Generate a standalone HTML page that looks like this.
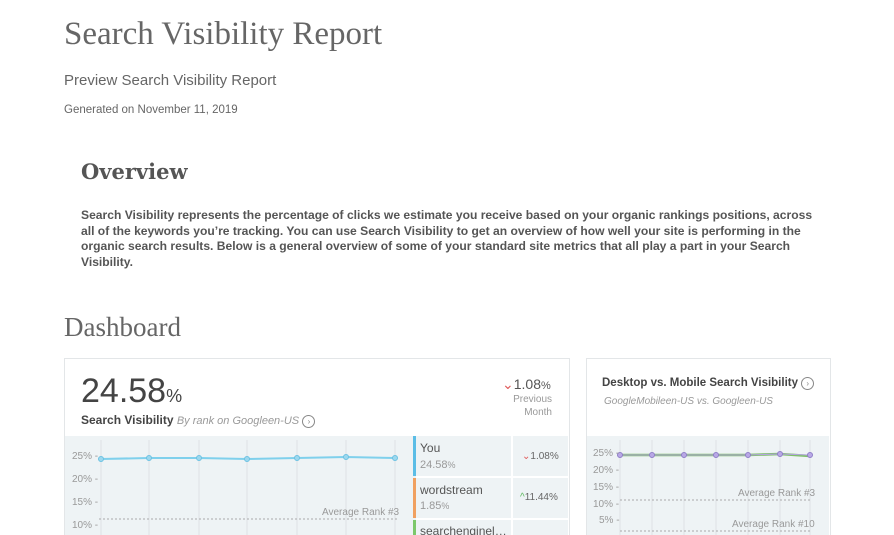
<!DOCTYPE html>
<html><head><style>
html,body{margin:0;width:894px;height:535px;overflow:hidden}
body{background:#fff;font-family:"Liberation Sans",sans-serif;position:relative}
.a{position:absolute;white-space:nowrap}
.card{position:absolute;background:#fff;border:1px solid #e3e6e8;border-bottom:none}
.gray{position:absolute;background:#eef3f5}
.yl{position:absolute;font-size:10px;color:#999;z-index:3}
svg{z-index:2}
</style></head><body>
<div class="a" style="left:64px;top:16px;font-family:'Liberation Serif',serif;font-size:33px;color:#666">Search Visibility Report</div>
<div class="a" style="left:64px;top:72px;font-size:15px;color:#666">Preview Search Visibility Report</div>
<div class="a" style="left:64px;top:104px;font-size:11.5px;color:#666">Generated on November 11, 2019</div>
<div class="a" style="left:81px;top:159px;font-family:'DejaVu Serif',serif;font-weight:bold;font-size:21px;color:#555">Overview</div>
<div class="a" style="left:81px;top:208px;width:735px;white-space:normal;font-size:12.1px;line-height:15.5px;font-weight:bold;color:#555">Search Visibility represents the percentage of clicks we estimate you receive based on your organic rankings positions, across all of the keywords you’re tracking. You can use Search Visibility to get an overview of how well your site is performing in the organic search results. Below is a general overview of some of your standard site metrics that all play a part in your Search Visibility.</div>
<div class="a" style="left:64px;top:312px;font-family:'Liberation Serif',serif;font-size:27px;color:#666">Dashboard</div>

<div class="card" style="left:64px;top:358px;width:504px;height:177px"></div>
<div class="gray" style="left:65px;top:436px;width:503px;height:99px"></div>
<div class="card" style="left:586px;top:358px;width:243px;height:177px"></div>
<div class="gray" style="left:587px;top:436px;width:242px;height:99px"></div>

<div class="a" style="left:81px;top:372px;font-size:34px;color:#444">24.58<span style="font-size:18px">%</span></div>
<div class="a" style="left:81px;top:413px;font-size:12px;font-weight:bold;color:#444">Search Visibility <span style="font-weight:normal;font-style:italic;color:#999;font-size:11px">By rank on Googleen-US</span> <span style="display:inline-block;width:11px;height:11px;border:1px solid #888;border-radius:50%;font-size:8px;text-align:center;line-height:11px;color:#888;font-weight:normal">›</span></div>
<div class="a" style="left:502px;top:376px;font-size:14px;color:#555"><span style="color:#e05a5a">⌄</span>1.08<span style="font-size:11px">%</span></div>
<div class="a" style="left:500px;top:393px;width:52px;text-align:right;font-size:10px;line-height:13px;color:#999;white-space:normal">Previous Month</div>

<svg class="a" style="left:0;top:0" width="894" height="535">
<g stroke="#dde2e5" stroke-width="1">
<line x1="101" y1="440" x2="101" y2="535"/><line x1="149" y1="440" x2="149" y2="535"/><line x1="199" y1="440" x2="199" y2="535"/><line x1="247" y1="440" x2="247" y2="535"/><line x1="297" y1="440" x2="297" y2="535"/><line x1="346" y1="440" x2="346" y2="535"/><line x1="395" y1="440" x2="395" y2="535"/>
<line x1="620" y1="440" x2="620" y2="535"/><line x1="652" y1="440" x2="652" y2="535"/><line x1="684" y1="440" x2="684" y2="535"/><line x1="716" y1="440" x2="716" y2="535"/><line x1="748" y1="440" x2="748" y2="535"/><line x1="780" y1="440" x2="780" y2="535"/><line x1="810" y1="440" x2="810" y2="535"/>
</g>
<g stroke="#aaa" stroke-dasharray="2,2"><line x1="99" y1="519" x2="397" y2="519"/><line x1="620" y1="500" x2="812" y2="500"/><line x1="620" y1="531" x2="812" y2="531"/></g>
<polyline points="101,459 149,458 199,458 247,459 297,458 346,457 395,458" fill="none" stroke="#7fd0ec" stroke-width="2"/>
<g fill="#9dd8ee" stroke="#6cc2e2"><circle cx="101" cy="459" r="2.5"/><circle cx="149" cy="458" r="2.5"/><circle cx="199" cy="458" r="2.5"/><circle cx="247" cy="459" r="2.5"/><circle cx="297" cy="458" r="2.5"/><circle cx="346" cy="457" r="2.5"/><circle cx="395" cy="458" r="2.5"/></g>
<polyline points="620,455 652,455 684,455 716,455 748,455 780,454 810,456" fill="none" stroke="#7fbf6a" stroke-width="2.5"/>
<polyline points="620,455 652,455 684,455 716,455 748,455 780,454 810,455" fill="none" stroke="#b4a3e0" stroke-width="1"/>
<g fill="#b9a8e6" stroke="#8f7fc8"><circle cx="620" cy="455" r="2.5"/><circle cx="652" cy="455" r="2.5"/><circle cx="684" cy="455" r="2.5"/><circle cx="716" cy="455" r="2.5"/><circle cx="748" cy="455" r="2.5"/><circle cx="780" cy="454" r="2.5"/><circle cx="810" cy="455" r="2.5"/></g>
</svg>
<div class="yl" style="left:72px;top:451px">25% -</div>
<div class="yl" style="left:72px;top:474px">20% -</div>
<div class="yl" style="left:72px;top:497px">15% -</div>
<div class="yl" style="left:72px;top:520px">10% -</div>
<div class="yl" style="left:322px;top:507px">Average Rank #3</div>

<div class="a" style="left:413px;top:436px;width:3px;height:40px;background:#5bbde6"></div>
<div class="a" style="left:413px;top:478px;width:3px;height:40px;background:#f0a060"></div>
<div class="a" style="left:413px;top:520px;width:3px;height:20px;background:#7cc86a"></div>
<div class="a" style="left:511px;top:436px;width:2px;height:100px;background:#fff"></div>
<div class="a" style="left:416px;top:476px;width:152px;height:2px;background:#fff"></div>
<div class="a" style="left:416px;top:518px;width:152px;height:2px;background:#fff"></div>
<div class="a" style="left:420px;top:441px;font-size:12px;color:#555">You</div>
<div class="a" style="left:420px;top:459px;font-size:11px;color:#999">24.58<span style="font-size:9px">%</span></div>
<div class="a" style="left:522px;top:451px;font-size:10px;color:#666"><span style="color:#e05a5a">⌄</span>1.08%</div>
<div class="a" style="left:420px;top:483px;font-size:12px;color:#555">wordstream</div>
<div class="a" style="left:420px;top:500px;font-size:11px;color:#999">1.85<span style="font-size:9px">%</span></div>
<div class="a" style="left:520px;top:492px;font-size:10px;color:#666"><span style="color:#5cb85c">^</span>11.44%</div>
<div class="a" style="left:420px;top:524px;font-size:12px;color:#555">searchenginel…</div>

<div class="a" style="left:602px;top:377px;font-size:11.5px;font-weight:bold;color:#444">Desktop vs. Mobile Search Visibility <span style="display:inline-block;width:11px;height:11px;border:1px solid #888;border-radius:50%;font-size:8px;text-align:center;line-height:11px;color:#888;font-weight:normal">›</span></div>
<div class="a" style="left:604px;top:396px;font-size:10px;font-style:italic;color:#999">GoogleMobileen-US vs. Googleen-US</div>
<div class="yl" style="left:593px;top:448px">25% -</div>
<div class="yl" style="left:593px;top:465px">20% -</div>
<div class="yl" style="left:593px;top:482px">15% -</div>
<div class="yl" style="left:593px;top:499px">10% -</div>
<div class="yl" style="left:599px;top:515px">5% -</div>
<div class="yl" style="left:738px;top:488px">Average Rank #3</div>
<div class="yl" style="left:732px;top:519px">Average Rank #10</div>
</body></html>
